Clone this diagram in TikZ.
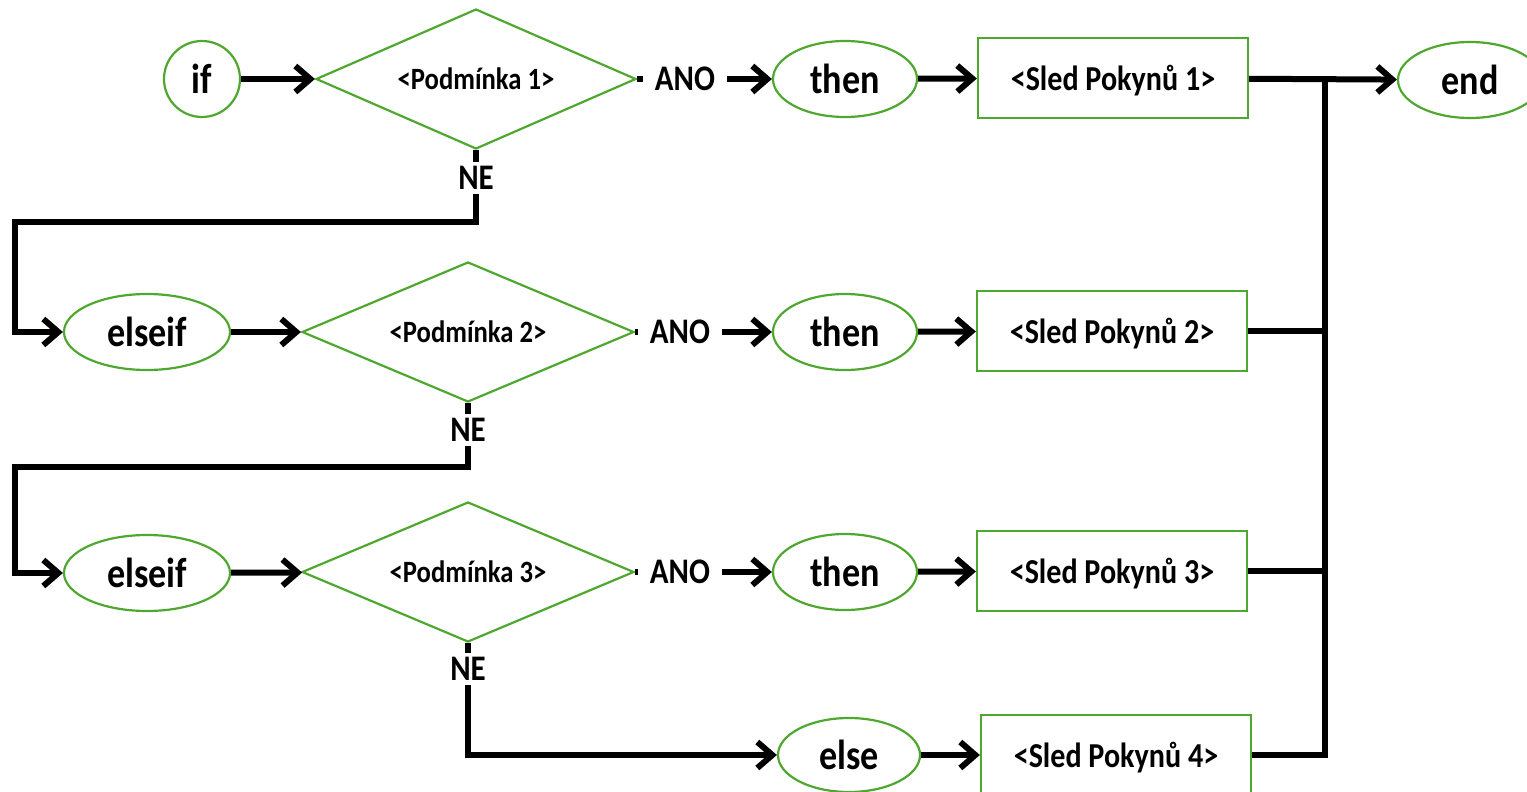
\documentclass[tikz,border=0pt]{standalone}
\usepackage{fontspec}
\setmainfont{Carlito}[FakeStretch=0.86]
\usetikzlibrary{shapes.geometric,arrows.meta}
\definecolor{grn}{HTML}{4EA72E}
\begin{document}
\begin{tikzpicture}[x=1pt,y=1pt]
            \tikzstyle{every node}+=[inner sep=0pt]
            \tikzstyle{oval}=[ellipse, draw=grn, line width=2.2pt, minimum height=76pt, font=\bfseries\fontsize{42}{48}\selectfont]
            \tikzstyle{cond}=[diamond, draw=grn, line width=2.2pt, aspect=2.3, minimum width=332pt, minimum height=140pt, font=\bfseries\fontsize{31}{36}\selectfont]
            \tikzstyle{block}=[rectangle, draw=grn, line width=2.2pt, minimum width=270pt, minimum height=80pt, text depth=0pt, xshift=0pt, font=\bfseries\fontsize{35}{40}\selectfont]
            \tikzstyle{lbl}=[inner xsep=12pt, inner ysep=4pt, font=\bfseries\fontsize{36}{40}\selectfont]
            \tikzstyle{wire}=[line width=6pt]
            \tikzstyle{arr}=[wire, -{Straight Barb[length=15pt,width=26pt]}]
            \useasboundingbox (0,0) rectangle (1527,-792);
                % if branch
                \node [oval, circle, minimum size=76pt] (start) at (202,-79) {if};
                \node [cond, minimum width=320pt] (d1) at (476,-79) {<Podmínka 1>};
                \node [lbl] (ano1) at (685,-79) {ANO};
                \node [oval, minimum width=144pt] (then1) at (845,-79) {then};
                \node [block] (s1) at (1113,-78) {<Sled Pokynů 1>};
                \node [oval, minimum width=144pt] (stop) at (1470,-80) {end};
                \node [lbl, inner xsep=4pt] (ne1) at (476,-178) {NE};
                % first elseif
                \node [oval, minimum width=166pt] (el1) at (147,-332) {elseif};
                \node [cond] (d2) at (468,-332) {<Podmínka 2>};
                \node [lbl] (ano2) at (680,-332) {ANO};
                \node [oval, minimum width=144pt] (then2) at (845,-332) {then};
                \node [block] (s2) at (1112,-331) {<Sled Pokynů 2>};
                \node [lbl, inner xsep=4pt] (ne2) at (468,-430) {NE};
                % second elseif
                \node [oval, minimum width=166pt] (el2) at (147,-573) {elseif};
                \node [cond] (d3) at (468,-572) {<Podmínka 3>};
                \node [lbl] (ano3) at (680,-572) {ANO};
                \node [oval, minimum width=144pt] (then3) at (845,-572) {then};
                \node [block] (s3) at (1112,-571) {<Sled Pokynů 3>};
                \node [lbl, inner xsep=4pt] (ne3) at (468,-669) {NE};
                % else
                \node [oval, minimum width=142pt, minimum height=74pt] (els) at (849,-755) {else};
                \node [block] (s4) at (1116,-755) {<Sled Pokynů 4>};
                % corners and bus
                \coordinate (k1) at (15,-222);
                \coordinate (k2) at (15,-467);
                \coordinate (bus) at (1325,-79);
                % connectors
                \draw [arr] (start) -- (d1);
                \draw [wire] (d1.east) -- (ano1);
                \draw [arr] (ano1) -- (then1);
                \draw [arr] (then1) -- (s1);
                \draw [arr] (s1) -- (stop);
                \draw [wire] (d1.south) -- (ne1);
                \draw [arr] (ne1) |- (k1) |- (el1);
                \draw [arr] (el1) -- (d2);
                \draw [wire] (d2.east) -- (ano2);
                \draw [arr] (ano2) -- (then2);
                \draw [arr] (then2) -- (s2);
                \draw [wire] (d2.south) -- (ne2);
                \draw [arr] (ne2) |- (k2) |- (el2);
                \draw [arr] (el2) -- (d3);
                \draw [wire] (d3.east) -- (ano3);
                \draw [arr] (ano3) -- (then3);
                \draw [arr] (then3) -- (s3);
                \draw [wire] (d3.south) -- (ne3);
                \draw [arr] (ne3) |- (els);
                \draw [arr] (els) -- (s4);
                \draw [wire] (s2.east) -- (s2.east -| bus);
                \draw [wire] (s3.east) -- (s3.east -| bus);
                \draw [wire] (s4.east) -| (bus);
            \end{tikzpicture}
\end{document}
